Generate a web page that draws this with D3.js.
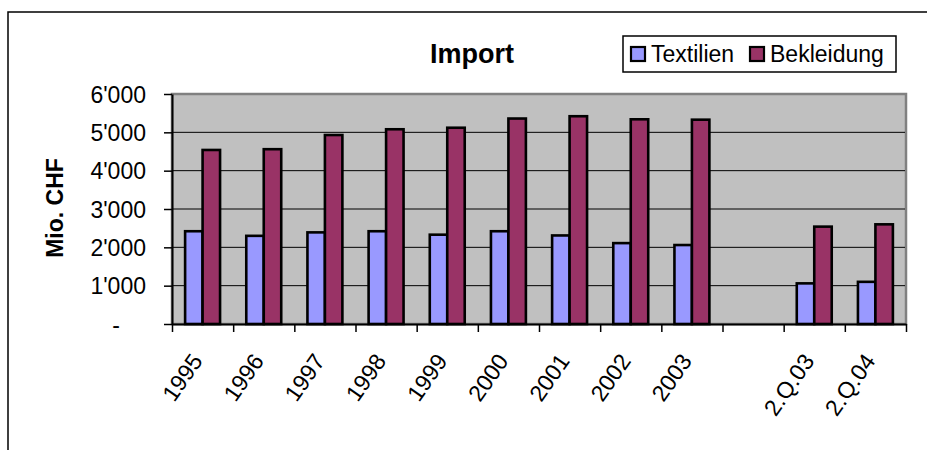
<!DOCTYPE html>
<html>
<head>
<meta charset="utf-8">
<script src="https://cdn.jsdelivr.net/npm/d3@7"></script>
<style>
	body { margin: 0; background: #ffffff; }
	text { font-family: Arial, "Liberation Sans", sans-serif; fill: #000000; }
</style>
</head>
<body>
<div id="containerChart"></div>
<script>

// categories on the x axis (one empty slot between 2003 and the quarters)
var categories = ["1995", "1996", "1997", "1998", "1999", "2000", "2001", "2002", "2003", "", "2.Q.03", "2.Q.04"];

// import values in Mio. CHF
var textilien = [2420, 2300, 2390, 2420, 2330, 2420, 2310, 2110, 2060, null, 1060, 1100];
var bekleidung = [4540, 4560, 4930, 5080, 5120, 5360, 5420, 5340, 5330, null, 2540, 2600];

var seriesNames = ["Textilien", "Bekleidung"];
var seriesColors = ["#9999ff", "#993366"];
var yTicks = [0, 1000, 2000, 3000, 4000, 5000, 6000];

function drawChart() {

	// characteristics for SVG element
	var width = 927;
	var height = 450;
	var leftMargin = 172;
	var rightEdge = 906;
	var topMargin = 94;
	var bottomEdge = 324;

	// swiss style thousands separator
	var locale = d3.formatLocale({decimal: ".", thousands: "'", grouping: [3], currency: ["", ""]});
	var format = locale.format(",");

	var svg = d3.select("#containerChart")
		.append("svg")
		.attr("width", width)
		.attr("height", height);

	// outer chart border (runs off the page on the right and bottom)
	svg.append("rect")
		.attr("x", 8)
		.attr("y", 12)
		.attr("width", 1000)
		.attr("height", 1000)
		.style("fill", "none")
		.style("stroke", "#000000")
		.style("stroke-width", 1.5);

	// scales
	var xScale = d3.scaleBand()
		.domain(d3.range(categories.length))
		.range([leftMargin, rightEdge])
		.padding(0);
	var xInner = d3.scaleBand()
		.domain(d3.range(seriesNames.length))
		.range([0, xScale.bandwidth()])
		.paddingInner(0)
		.paddingOuter(0.75);
	var yScale = d3.scaleLinear()
		.domain([0, 6000])
		.range([bottomEdge, topMargin]);

	// plot area
	svg.append("rect")
		.attr("x", leftMargin)
		.attr("y", topMargin)
		.attr("width", rightEdge - leftMargin)
		.attr("height", bottomEdge - topMargin)
		.style("fill", "#c0c0c0")
		.style("stroke", "#808080")
		.style("stroke-width", 2.5);

	// gridlines
	svg.selectAll(".grid")
		.data(yTicks.filter(function(d) { return d > 0 && d < 6000; }))
		.enter()
		.append("line")
		.attr("class", "grid")
		.attr("x1", leftMargin)
		.attr("x2", rightEdge - 1)
		.attr("y1", function(d) { return yScale(d); })
		.attr("y2", function(d) { return yScale(d); })
		.style("stroke", "#000000")
		.style("stroke-width", 1);

	// bars, one group per category
	var rows = categories.map(function(c, i) {
		return [textilien[i], bekleidung[i]];
	});
	var groups = svg.selectAll(".group")
		.data(rows)
		.enter()
		.append("g")
		.attr("class", "group")
		.attr("transform", function(d, i) { return "translate(" + xScale(i) + ",0)"; });
	groups.selectAll("rect")
		.data(function(d) { return d; })
		.enter()
		.filter(function(d) { return d != null; })
		.append("rect")
		.attr("x", function(d, j) { return xInner(j); })
		.attr("y", function(d) { return yScale(d); })
		.attr("width", xInner.bandwidth())
		.attr("height", function(d) { return bottomEdge - yScale(d); })
		.style("fill", function(d, j) { return seriesColors[j]; })
		.style("stroke", "#000000")
		.style("stroke-width", 2.6);

	// y axis
	var yAxis = d3.axisLeft(yScale)
		.tickValues(yTicks)
		.tickSize(8)
		.tickPadding(18)
		.tickSizeOuter(0)
		.tickFormat(function(d) { return d == 0 ? "-" : format(d); });
	var gy = svg.append("g")
		.attr("transform", "translate(" + leftMargin + ",0)")
		.call(yAxis);
	gy.select(".domain").style("stroke", "#000000").style("stroke-width", 2);
	gy.selectAll(".tick line").style("stroke", "#000000").style("stroke-width", 1.5);
	gy.selectAll(".tick text")
		.style("font-size", "23px")
		.style("font-family", "Arial, 'Liberation Sans', sans-serif")
		.attr("dy", "0.36em")
		.attr("x", function(d) { return d == 0 ? -52 : -26; });

	// x axis, ticks on the category borders
	var xAxis = d3.axisBottom(d3.scaleLinear().domain([0, categories.length]).range([leftMargin, rightEdge]))
		.tickValues(d3.range(categories.length + 1))
		.tickSize(8)
		.tickSizeOuter(0)
		.tickFormat("");
	var gx = svg.append("g")
		.attr("transform", "translate(0," + bottomEdge + ")")
		.call(xAxis);
	gx.select(".domain").style("stroke", "#000000").style("stroke-width", 2);
	gx.selectAll(".tick line").style("stroke", "#000000").style("stroke-width", 1.5);

	// rotated category labels
	svg.selectAll(".xlabel")
		.data(categories)
		.enter()
		.append("text")
		.attr("class", "xlabel")
		.attr("transform", function(d, i) {
			var cx = xScale(i) + xScale.bandwidth() / 2 + 1;
			return "translate(" + cx + ",361) rotate(-55)";
		})
		.style("text-anchor", "end")
		.style("font-size", "23px")
		.text(function(d) { return d; });

	// y axis title
	svg.append("text")
		.attr("transform", "translate(63,208) rotate(-90)")
		.style("text-anchor", "middle")
		.style("font-size", "23px")
		.style("font-weight", "bold")
		.text("Mio. CHF");

	// chart title
	svg.append("text")
		.attr("x", 472)
		.attr("y", 63)
		.style("text-anchor", "middle")
		.style("font-size", "27px")
		.style("font-weight", "bold")
		.text("Import");

	// legend
	var legend = svg.append("g");
	legend.append("rect")
		.attr("x", 623)
		.attr("y", 36)
		.attr("width", 273)
		.attr("height", 36)
		.style("fill", "#ffffff")
		.style("stroke", "#000000")
		.style("stroke-width", 1.5);
	var legendX = [631, 750];
	seriesNames.forEach(function(name, j) {
		legend.append("rect")
			.attr("x", legendX[j])
			.attr("y", 47)
			.attr("width", 14)
			.attr("height", 14)
			.style("fill", seriesColors[j])
			.style("stroke", "#000000")
			.style("stroke-width", 2.2);
		legend.append("text")
			.attr("x", legendX[j] + 20)
			.attr("y", 62)
			.style("font-size", "23px")
			.text(name);
	});
};

drawChart();
</script>
</body>
</html>
